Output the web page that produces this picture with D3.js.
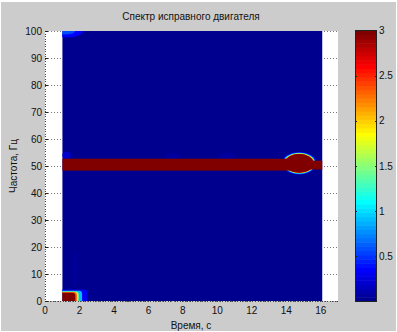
<!DOCTYPE html>
<meta charset="utf-8">
<style>
body { margin: 0; background: #fff; }
text { font-family: "Liberation Sans", Arial, sans-serif; fill: #111; }
.grid line { stroke: #777; stroke-dasharray: 1,2; shape-rendering: crispEdges; }
.axisline { stroke: #444; stroke-dasharray: 1,1.5; shape-rendering: crispEdges; }
.tick { stroke: #222; shape-rendering: crispEdges; }
</style>
<body>
<script src="https://cdn.jsdelivr.net/npm/d3@7"></script>
<script>
// ---- data ----
var title = "Спектр исправного двигателя";
var xLabel = "Время, с";
var yLabel = "Частота, Гц";
var xTicks = [0, 2, 4, 6, 8, 10, 12, 14, 16];
var yTicks = [0, 10, 20, 30, 40, 50, 60, 70, 80, 90, 100];
var cbTicks = [0.5, 1, 1.5, 2, 2.5, 3];

var timeRange = [1.0, 16.1];   // s, extent of the spectrogram
var freqRange = [0, 100];      // Hz
var floorLevel = 0.02;         // background amplitude

// band of the 50 Hz line: [t0, t1, f0, f1, value]
var bandCells = [
    [1.0, 14.3, 48.3, 52.7, 4.0],
    [14.3, 16.1, 48.7, 52.0, 4.0]
];
// low-frequency start-up spot, nested levels: [t0, t1, f0, f1, value]
var startCells = [
    [1.0, 2.45, 0, 4.3, 0.3],
    [1.0, 2.15, 0, 3.8, 0.9],
    [1.0, 1.95, 0, 3.5, 1.6],
    [1.0, 1.85, 0, 3.3, 2.3],
    [1.0, 1.76, 0, 3.1, 3.2]
];
// faint spots: [t, f, half-width s, half-height Hz, value]
var faintSpots = [
    [1.3, 100, 0.9, 2.4, 0.35],
    [1.2, 100, 0.55, 1.3, 0.6],
    [1.25, 54.0, 0.25, 1.3, 0.22],
    [1.75, 12, 0.1, 7, 0.06],
    [7.4, 53.6, 0.4, 1.0, 0.06],
    [10.6, 53.6, 0.5, 1.2, 0.07]
];
// spot on the 50 Hz line near the end: [t, f, half-width s, half-height Hz, value]
var lineSpot = [
    [14.75, 51.0, 1.0, 4.2, 0.4],
    [14.75, 51.0, 0.94, 3.9, 1.0],
    [14.75, 51.0, 0.89, 3.7, 1.8],
    [14.75, 51.0, 0.86, 3.58, 2.4],
    [14.75, 51.0, 0.82, 3.45, 3.2]
];

// ---- colormap (MATLAB jet, 64 levels) ----
function jet(m) {
    var n = Math.ceil(m / 4), u = [], i;
    for (i = 1; i <= n; i++) u.push(i / n);
    for (i = 0; i < n - 1; i++) u.push(1);
    for (i = n; i >= 1; i--) u.push(i / n);
    var g0 = Math.ceil(n / 2) - (m % 4 == 1 ? 1 : 0);
    var J = d3.range(m).map(function() { return [0, 0, 0]; });
    u.forEach(function(v, k) {
        var g = g0 + k + 1, r = g + n, b = g - n;
        if (r >= 1 && r <= m) J[r - 1][0] = v;
        if (g >= 1 && g <= m) J[g - 1][1] = v;
        if (b >= 1 && b <= m) J[b - 1][2] = v;
    });
    return J.map(function(c) { return d3.rgb(c[0] * 255, c[1] * 255, c[2] * 255).formatHex(); });
}
var jet64 = jet(64);
var color = d3.scaleQuantize().domain([0, 3]).range(jet64);

// ---- layout ----
var W = 397, H = 332;
var x = d3.scaleLinear().domain([0, 17]).range([45, 338]);
var y = d3.scaleLinear().domain([0, 100]).range([301, 31]);
var cb = d3.scaleLinear().domain([0, 3]).range([301.5, 30.5]);
var cbX = 355, cbW = 22;

var svg = d3.select("body").append("svg").attr("width", W).attr("height", H);
svg.append("rect").attr("x", 0).attr("y", 0).attr("width", W).attr("height", H).attr("fill", "#fff");
svg.append("rect").attr("x", 1).attr("y", 2).attr("width", W - 2).attr("height", H - 3).attr("fill", "#cccccc");

var defs = svg.append("defs");
defs.append("clipPath").attr("id", "img").append("rect")
    .attr("x", x(timeRange[0])).attr("y", y(freqRange[1]))
    .attr("width", x(timeRange[1]) - x(timeRange[0]))
    .attr("height", y(freqRange[0]) - y(freqRange[1]));
defs.append("filter").attr("id", "soft").attr("x", "-20%").attr("y", "-20%").attr("width", "140%").attr("height", "140%")
    .append("feGaussianBlur").attr("stdDeviation", 0.7);

// axes background
svg.append("rect").attr("x", x(0)).attr("y", y(100)).attr("width", x(17) - x(0)).attr("height", y(0) - y(100)).attr("fill", "#fff");

// grid
var grid = svg.append("g").attr("class", "grid");
grid.selectAll(".gy").data(yTicks).enter().append("line")
    .attr("x1", x(0)).attr("x2", x(17))
    .attr("y1", function(d) { return Math.round(y(d)) + 0.5; })
    .attr("y2", function(d) { return Math.round(y(d)) + 0.5; });

// spectrogram
var img = svg.append("g").attr("clip-path", "url(#img)");
img.append("rect")
    .attr("x", x(timeRange[0])).attr("y", y(freqRange[1]))
    .attr("width", x(timeRange[1]) - x(timeRange[0]))
    .attr("height", y(freqRange[0]) - y(freqRange[1]))
    .attr("fill", color(floorLevel));

function ellipses(g, data) {
    g.selectAll("ellipse").data(data).enter().append("ellipse")
        .attr("cx", function(d) { return x(d[0]); })
        .attr("cy", function(d) { return y(d[1]); })
        .attr("rx", function(d) { return x(d[0] + d[2]) - x(d[0]); })
        .attr("ry", function(d) { return y(d[1] - d[3]) - y(d[1]); })
        .attr("fill", function(d) { return color(d[4]); });
}

ellipses(img.append("g").attr("filter", "url(#soft)"), faintSpots);
ellipses(img.append("g").attr("filter", "url(#soft)"), lineSpot);

img.selectAll(".band").data(bandCells).enter().append("rect")
    .attr("x", function(d) { return x(d[0]); })
    .attr("width", function(d) { return x(d[1]) - x(d[0]); })
    .attr("y", function(d) { return y(d[3]); })
    .attr("height", function(d) { return y(d[2]) - y(d[3]); })
    .attr("fill", function(d) { return color(d[4]); });

// inner part of the line spot, drawn over the band so they merge
ellipses(img.append("g"), lineSpot.slice(4));

img.append("g").attr("filter", "url(#soft)")
    .selectAll(".start").data(startCells).enter().append("rect")
    .attr("x", function(d) { return x(d[0]) - 4; })
    .attr("width", function(d) { return x(d[1]) - x(d[0]) + 4; })
    .attr("y", function(d) { return y(d[3]); })
    .attr("height", function(d) { return y(d[2]) - y(d[3]) + 4; })
    .attr("rx", 3)
    .attr("fill", function(d) { return color(d[4]); });

// axis lines (dotted) and ticks
svg.append("line").attr("class", "axisline")
    .attr("x1", x(0) + 0.5).attr("x2", x(0) + 0.5).attr("y1", y(100)).attr("y2", y(0));
svg.append("line").attr("class", "axisline")
    .attr("x1", x(0)).attr("x2", x(17)).attr("y1", y(0) + 0.5).attr("y2", y(0) + 0.5);

svg.selectAll(".yt").data(yTicks).enter().append("line").attr("class", "tick")
    .attr("x1", x(0)).attr("x2", x(0) + 3)
    .attr("y1", function(d) { return Math.round(y(d)) + 0.5; })
    .attr("y2", function(d) { return Math.round(y(d)) + 0.5; });

svg.selectAll(".ytl").data(yTicks).enter().append("text")
    .attr("x", x(0) - 3).attr("y", function(d) { return y(d); })
    .attr("dy", "0.35em").attr("text-anchor", "end").attr("font-size", 10)
    .text(function(d) { return d; });

svg.selectAll(".xtl").data(xTicks).enter().append("text")
    .attr("x", function(d) { return x(d); }).attr("y", 314)
    .attr("text-anchor", "middle").attr("font-size", 10)
    .text(function(d) { return d; });

// titles
svg.append("text").attr("x", 191).attr("y", 20).attr("text-anchor", "middle").attr("font-size", 10).text(title);
svg.append("text").attr("x", 191).attr("y", 329).attr("text-anchor", "middle").attr("font-size", 10).text(xLabel);
svg.append("text").attr("transform", "translate(17,166) rotate(-90)").attr("text-anchor", "middle").attr("font-size", 10).text(yLabel);

// colorbar
var step = 3 / jet64.length;
svg.selectAll(".cb").data(jet64).enter().append("rect")
    .attr("x", cbX).attr("width", cbW)
    .attr("y", function(d, i) { return cb((i + 1) * step); })
    .attr("height", function(d, i) { return cb(i * step) - cb((i + 1) * step) + 0.5; })
    .attr("fill", function(d) { return d; });
svg.append("rect").attr("x", cbX + 0.5).attr("y", cb(3)).attr("width", cbW - 1).attr("height", cb(0) - cb(3))
    .attr("fill", "none").attr("stroke", "#222").attr("stroke-width", 1);
svg.selectAll(".cbt").data(cbTicks).enter().append("path").attr("class", "tick")
    .attr("d", function(d) {
        var yy = Math.round(cb(d)) + 0.5;
        return "M" + cbX + "," + yy + "h2M" + (cbX + cbW - 2) + "," + yy + "h2";
    });
svg.selectAll(".cbl").data(cbTicks).enter().append("text")
    .attr("x", cbX + cbW + 2).attr("y", function(d) { return cb(d); })
    .attr("dy", "0.35em").attr("font-size", 10)
    .text(function(d) { return d; });
</script>
</body>
